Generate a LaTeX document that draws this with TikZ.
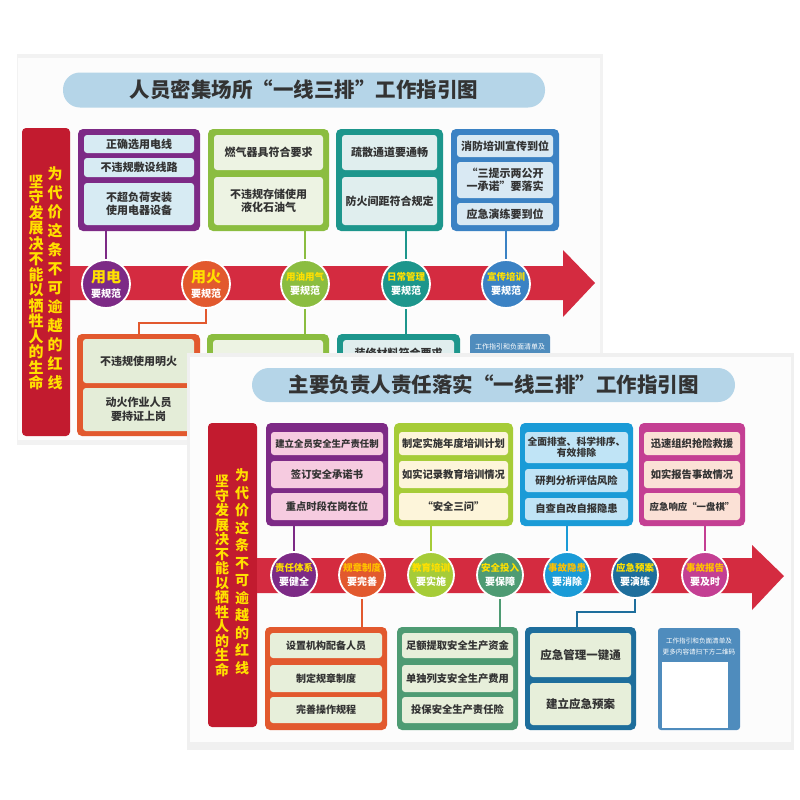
\documentclass[tikz,border=0pt]{standalone}
\usepackage{fontspec}
\setmainfont{Noto Sans CJK SC}
\definecolor{ink}{HTML}{333333}
\definecolor{gold}{HTML}{FFE000}
\definecolor{amber}{HTML}{FFC000}
\definecolor{sky}{HTML}{B5D5E8}
\definecolor{crimson}{HTML}{C21B2F}
\definecolor{arrowred}{HTML}{D42B40}
\definecolor{vio}{HTML}{7D2A86}
\definecolor{tang}{HTML}{E2592E}
\definecolor{leaf}{HTML}{8BBD40}
\definecolor{sea}{HTML}{1D968C}
\definecolor{azure}{HTML}{3B82C4}
\definecolor{sprout}{HTML}{A6CC38}
\definecolor{fern}{HTML}{4E9B73}
\definecolor{brook}{HTML}{1A9BD7}
\definecolor{deep}{HTML}{1E6E9C}
\definecolor{orchid}{HTML}{C43F93}
\definecolor{steel}{HTML}{4F8CBD}
\definecolor{cvio}{HTML}{D7EBF3}
\definecolor{cleaf}{HTML}{EDF3E3}
\definecolor{csea}{HTML}{E0EEEE}
\definecolor{cazure}{HTML}{D9E9F3}
\definecolor{ctang}{HTML}{E4EDD8}
\definecolor{fpink}{HTML}{F6CBE0}
\definecolor{fcream}{HTML}{FDF5DA}
\definecolor{fblue}{HTML}{C0E4F6}
\definecolor{fpeach}{HTML}{FBE1D6}
\definecolor{fgreen}{HTML}{E7EFDA}
\newcommand\duo[3]{{\fontsize{#1}{#1}\selectfont\color{gold}#2}\\[3.5pt]{#3}}
\begin{document}
\begin{tikzpicture}[x=1pt,y=-1pt,
  panel/.style={rounded corners=5pt,inner sep=0pt},
  cell/.style={rounded corners=3pt,inner sep=0pt,align=center,text=ink,font=\fontsize{11}{13.5}\selectfont\bfseries},
  fcell/.style={cell,font=\fontsize{10.3}{12.5}\selectfont\bfseries},
  badge/.style={circle,draw=white,line width=1.8pt,inner sep=0pt,align=center,text=white,font=\fontsize{10}{11}\selectfont\bfseries},
  pill/.style={rounded corners=17pt,fill=sky,inner sep=0pt,text=ink,font=\fontsize{20.5}{24}\selectfont\bfseries},
  banner/.style={fill=crimson,rounded corners=4pt,inner sep=0pt},
  vert/.style={align=center,text=gold,inner sep=0pt},
  link/.style={line width=2pt}]
\fill[white] (0,0) rectangle (800,800);
\useasboundingbox (0,0) rectangle (800,800);

\fill[black!5] (17,54) rectangle (603,445);
\fill[black!1] (18,58) rectangle (600,440);
\node[pill, minimum width=482pt, minimum height=35pt] (t1) at (304,90) {人员密集场所“一线三排”工作指引图};
\node[banner, minimum width=48pt, minimum height=308pt] (r1) at (46,282) {};
\node[vert, font=\fontsize{15}{15.5}\selectfont\bfseries] (r1a) at (36,282.5) {坚\\守\\发\\展\\决\\不\\能\\以\\牺\\牲\\人\\的\\生\\命};
\node[vert, font=\fontsize{15}{19}\selectfont\bfseries] (r1b) at (55,278.5) {为\\代\\价\\这\\条\\不\\可\\逾\\越\\的\\红\\线};
\fill[arrowred] (70,266) -- (563,266) -- (563,250) -- (595,283) -- (563,317) -- (563,300) -- (70,300) -- cycle;

\node[panel, fill=vio, minimum width=122pt, minimum height=102pt] (b1) at (139,180) {};
\node[cell, fill=cvio, minimum width=110pt, minimum height=18pt] (b1a) at (139,144) {正确选用电线};
\node[cell, fill=cvio, minimum width=110pt, minimum height=19pt] (b1b) at (139,167.5) {不违规敷设线路};
\node[cell, fill=cvio, minimum width=110pt, minimum height=42pt] (b1c) at (139,204) {不超负荷安装\\使用电器设备};
\node[panel, fill=leaf, minimum width=121pt, minimum height=102pt] (b2) at (268.5,180) {};
\node[cell, fill=cleaf, minimum width=109pt, minimum height=35pt] (b2a) at (268.5,152.5) {燃气器具符合要求};
\node[cell, fill=cleaf, minimum width=109pt, minimum height=48pt] (b2b) at (268.5,201) {不违规存储使用\\液化石油气};
\node[panel, fill=sea, minimum width=107pt, minimum height=102pt] (b3) at (389.5,180) {};
\node[cell, fill=csea, minimum width=95pt, minimum height=35pt] (b3a) at (389.5,152.5) {疏散通道要通畅};
\node[cell, fill=csea, minimum width=95pt, minimum height=48pt] (b3b) at (389.5,201) {防火间距符合规定};
\node[panel, fill=azure, minimum width=108pt, minimum height=102pt] (b4) at (505,180) {};
\node[cell, fill=cazure, minimum width=96pt, minimum height=22pt] (b4a) at (505,146) {消防培训宣传到位};
\node[cell, fill=cazure, minimum width=96pt, minimum height=36pt] (b4b) at (505,180) {“三提示两公开\\一承诺”要落实};
\node[cell, fill=cazure, minimum width=96pt, minimum height=22pt] (b4c) at (505,214) {应急演练要到位};

\node[panel, fill=tang, minimum width=123pt, minimum height=102pt] (d1) at (138.5,385) {};
\node[cell, fill=ctang, minimum width=111pt, minimum height=44pt] (d1a) at (138.5,361) {不违规使用明火};
\node[cell, fill=ctang, minimum width=111pt, minimum height=43pt] (d1b) at (138.5,409.5) {动火作业人员\\要持证上岗};
\node[panel, fill=leaf, minimum width=122pt, minimum height=102pt] (d2) at (268,385) {};
\node[cell, fill=cleaf, minimum width=110pt, minimum height=42pt] (d2a) at (268,361) {};
\node[panel, fill=sea, minimum width=123pt, minimum height=102pt] (d3) at (398.5,385) {};
\node[cell, fill=csea, minimum width=111pt, minimum height=26pt] (d3a) at (398.5,353) {装修材料符合要求};
\node[panel, fill=steel, rounded corners=3pt, minimum width=80pt, minimum height=102pt] (d4) at (510,385) {};
\node[text=white, align=center, inner sep=0pt, font=\fontsize{7}{11}\selectfont] (d4a) at (510,352.5) {工作指引和负面清单及\\更多内容请扫下方二维码};

\node[badge, fill=vio, minimum size=48pt] (u1) at (106,284) {\duo{15}{用电}{要规范}};
\node[badge, fill=tang, minimum size=48pt] (u2) at (206,284) {\duo{15}{用火}{要规范}};
\node[badge, fill=leaf, minimum size=48pt] (u3) at (305,284) {\duo{9.5}{用油用气}{要规范}};
\node[badge, fill=sea, minimum size=48pt] (u4) at (406,284) {\duo{9.5}{日常管理}{要规范}};
\node[badge, fill=azure, minimum size=48pt] (u5) at (506,284) {\duo{9.5}{宣传培训}{要规范}};

\draw[link, vio] (u1.north |- b1.south) -- (u1.north);
\draw[link, leaf] (u3.north |- b2.south) -- (u3.north);
\draw[link, sea] (u4.north |- b3.south) -- (u4.north);
\draw[link, azure] (u5.north |- b4.south) -- (u5.north);
\draw[link, tang] (u2.south) -- ++(0,14) -| (d1.north);
\draw[link, leaf] (u3.south) -- (u3.south |- d2.north);
\draw[link, sea] (u4.south) -- (u4.south |- d3.north);

\fill[black!6] (187,353) rectangle (794,750);
\fill[black!1] (190,357) rectangle (791,742);
\node[pill, minimum width=483pt, minimum height=34pt] (t2) at (493.5,385) {主要负责人责任落实“一线三排”工作指引图};
\node[banner, minimum width=49pt, minimum height=304pt] (r2) at (232.5,575) {};
\node[vert, font=\fontsize{14}{14.5}\selectfont\bfseries] (r2a) at (222,576) {坚\\守\\发\\展\\决\\不\\能\\以\\牺\\牲\\人\\的\\生\\命};
\node[vert, font=\fontsize{14}{17.5}\selectfont\bfseries] (r2b) at (242,571.5) {为\\代\\价\\这\\条\\不\\可\\逾\\越\\的\\红\\线};
\fill[arrowred] (257,558) -- (752,558) -- (752,545) -- (784,576) -- (752,610) -- (752,593) -- (257,593) -- cycle;

\node[panel, fill=vio, minimum width=122pt, minimum height=103pt] (f1) at (327,474.5) {};
\node[fcell, fill=fpink, minimum width=112pt, minimum height=23pt, font=\fontsize{9.4}{11}\selectfont\bfseries] (f1a) at (327,443.5) {建立全员安全生产责任制};
\node[fcell, fill=fpink, minimum width=112pt, minimum height=27pt] (f1b) at (327,474.5) {签订安全承诺书};
\node[fcell, fill=fpink, minimum width=112pt, minimum height=27pt] (f1c) at (327,506.5) {重点时段在岗在位};
\node[panel, fill=sprout, minimum width=119pt, minimum height=103pt] (f2) at (453.5,474.5) {};
\node[fcell, fill=fcream, minimum width=109pt, minimum height=23pt] (f2a) at (453.5,443.5) {制定实施年度培训计划};
\node[fcell, fill=fcream, minimum width=109pt, minimum height=27pt] (f2b) at (453.5,474.5) {如实记录教育培训情况};
\node[fcell, fill=fcream, minimum width=109pt, minimum height=27pt] (f2c) at (453.5,506.5) {“安全三问”};
\node[panel, fill=brook, minimum width=113pt, minimum height=103pt] (f3) at (576.5,474.5) {};
\node[fcell, fill=fblue, minimum width=103pt, minimum height=31pt, font=\fontsize{9.8}{11.5}\selectfont\bfseries] (f3a) at (576.5,447.5) {全面排查、科学排序、\\有效排除};
\node[fcell, fill=fblue, minimum width=103pt, minimum height=23pt] (f3b) at (576.5,480.5) {研判分析评估风险};
\node[fcell, fill=fblue, minimum width=103pt, minimum height=22pt] (f3c) at (576.5,509) {自查自改自报隐患};
\node[panel, fill=orchid, minimum width=106pt, minimum height=103pt] (f4) at (692,474.5) {};
\node[fcell, fill=fpeach, minimum width=96pt, minimum height=23pt] (f4a) at (692,443.5) {迅速组织抢险救援};
\node[fcell, fill=fpeach, minimum width=96pt, minimum height=27pt] (f4b) at (692,474.5) {如实报告事故情况};
\node[fcell, fill=fpeach, minimum width=96pt, minimum height=27pt, font=\fontsize{9.4}{11}\selectfont\bfseries] (f4c) at (692,506.5) {应急响应“一盘棋”};

\node[panel, fill=tang, minimum width=122pt, minimum height=103pt] (g1) at (326,678.5) {};
\node[fcell, fill=fgreen, minimum width=112pt, minimum height=25pt, font=\fontsize{10}{12}\selectfont\bfseries] (g1a) at (326,645.5) {设置机构配备人员};
\node[fcell, fill=fgreen, minimum width=112pt, minimum height=27pt, font=\fontsize{10}{12}\selectfont\bfseries] (g1b) at (326,678.5) {制定规章制度};
\node[fcell, fill=fgreen, minimum width=112pt, minimum height=26pt, font=\fontsize{10}{12}\selectfont\bfseries] (g1c) at (326,710) {完善操作规程};
\node[panel, fill=fern, minimum width=121pt, minimum height=103pt] (g2) at (457.5,678.5) {};
\node[fcell, fill=fgreen, minimum width=111pt, minimum height=25pt] (g2a) at (457.5,645.5) {足额提取安全生产资金};
\node[fcell, fill=fgreen, minimum width=111pt, minimum height=27pt] (g2b) at (457.5,678.5) {单独列支安全生产费用};
\node[fcell, fill=fgreen, minimum width=111pt, minimum height=26pt] (g2c) at (457.5,710) {投保安全生产责任险};
\node[panel, fill=deep, minimum width=111pt, minimum height=103pt] (g3) at (580.5,678.5) {};
\node[fcell, fill=fgreen, minimum width=101pt, minimum height=44pt, font=\fontsize{11.5}{13}\selectfont\bfseries] (g3a) at (580.5,655) {应急管理一键通};
\node[fcell, fill=fgreen, minimum width=101pt, minimum height=42pt, font=\fontsize{11.5}{13}\selectfont\bfseries] (g3b) at (580.5,704) {建立应急预案};
\node[panel, fill=steel, rounded corners=3pt, minimum width=82pt, minimum height=102pt] (g4) at (699,679) {};
\node[text=white, align=center, inner sep=0pt, font=\fontsize{6.6}{11}\selectfont] (g4a) at (699,646) {工作指引和负面清单及\\更多内容请扫下方二维码};
\node[fill=white, minimum size=66pt, inner sep=0pt] (g4b) at (695,695) {};

\node[badge, fill=vio, minimum size=46pt] (v1) at (294,575) {\duo{9.5}{责任体系}{要健全}};
\node[badge, fill=tang, minimum size=46pt] (v2) at (362,575) {\duo{9.5}{\color{amber}规章制度}{要完善}};
\node[badge, fill=sprout, minimum size=46pt] (v3) at (431,575) {\duo{9.5}{教育培训}{要实施}};
\node[badge, fill=fern, minimum size=46pt] (v4) at (500,575) {\duo{9.5}{安全投入}{要保障}};
\node[badge, fill=brook, minimum size=46pt] (v5) at (567,575) {\duo{9.5}{\color{amber}事故隐患}{要消除}};
\node[badge, fill=deep, minimum size=46pt] (v6) at (635,575) {\duo{9.5}{应急预案}{要演练}};
\node[badge, fill=orchid, minimum size=46pt] (v7) at (705,575) {\duo{9.5}{\color{amber}事故报告}{要及时}};

\draw[link, vio] (v1.north |- f1.south) -- (v1.north);
\draw[link, sprout] (v3.north |- f2.south) -- (v3.north);
\draw[link, brook] (v5.north |- f3.south) -- (v5.north);
\draw[link, orchid] (v7.north |- f4.south) -- (v7.north);
\draw[link, tang] (v2.south) -- (v2.south |- g1.north);
\draw[link, fern] (v4.south) -- (v4.south |- g2.north);
\draw[link, deep] (v6.south) -- ++(0,13) -| ([xshift=-3.5pt]g3.north);
\end{tikzpicture}
\end{document}
